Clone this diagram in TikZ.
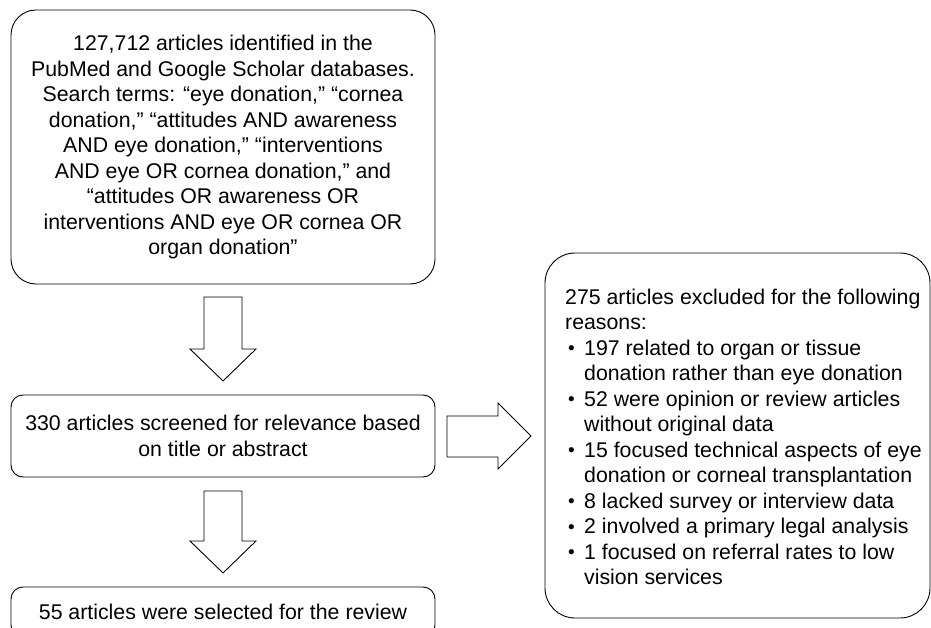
\documentclass[tikz,border=0pt]{standalone}
\usepackage{fontspec}
\setmainfont{Liberation Sans}
\newcommand{\bulitem}{\hspace*{3pt}\makebox[16pt][l]{\raisebox{0.6pt}{\fontsize{19}{19}\selectfont\textbullet}}}
\newcommand{\hangsp}{\hspace*{19pt}}
\begin{document}
\begin{tikzpicture}[x=1pt,y=-1pt,
  every node/.style={font=\fontsize{21.3}{25.5}\selectfont},
  boxst/.style={draw=black, line width=0.9pt, minimum width=424pt, inner sep=0pt, align=center},
  blockarrow/.style={draw=black, line width=0.9pt, fill=white, line join=miter}]
\useasboundingbox (0,0) rectangle (931,628);

\node[boxst, rounded corners=25pt, minimum height=274pt] (search) at (223,147)
  {127,712 articles identified in the\\
   PubMed and Google Scholar databases.\\
   Search terms: “eye donation,” “cornea\\
   donation,” “attitudes AND awareness\\
   AND eye donation,” “interventions\\
   AND eye OR cornea donation,” and\\
   “attitudes OR awareness OR\\
   interventions AND eye OR cornea OR\\
   organ donation”};

\node[boxst, rounded corners=12pt, minimum height=82pt] (screen) at (223,436)
  {330 articles screened for relevance based\\ on title or abstract};

\node[boxst, rounded corners=12pt, minimum height=50pt] (selected) at (223,612)
  {55 articles were selected for the review};

\node[draw=black, line width=0.9pt, rounded corners=30pt, minimum width=385pt,
      minimum height=365pt, inner sep=0pt] (excl) at (737.5,435.5) {};
\node[anchor=west, align=left, inner sep=0pt] (excltext) at (565,437)
  {275 articles excluded for the following\\
   reasons:\\
   \bulitem 197 related to organ or tissue\\
   \hangsp donation rather than eye donation\\
   \bulitem 52 were opinion or review articles\\
   \hangsp without original data\\
   \bulitem 15 focused technical aspects of eye\\
   \hangsp donation or corneal transplantation\\
   \bulitem 8 lacked survey or interview data\\
   \bulitem 2 involved a primary legal analysis\\
   \bulitem 1 focused on referral rates to low\\
   \hangsp vision services};

% block arrows
\draw[blockarrow] (204,297) -- (242,297) -- (242,349) -- (256,349) -- (223,381)
  -- (190,349) -- (204,349) -- cycle;
\draw[blockarrow] (204,491) -- (242,491) -- (242,541) -- (256,541) -- (223,573)
  -- (190,541) -- (204,541) -- cycle;
\draw[blockarrow] (447,416) -- (498,416) -- (498,403) -- (531,436) -- (498,469)
  -- (498,457) -- (447,457) -- cycle;
\end{tikzpicture}
\end{document}
